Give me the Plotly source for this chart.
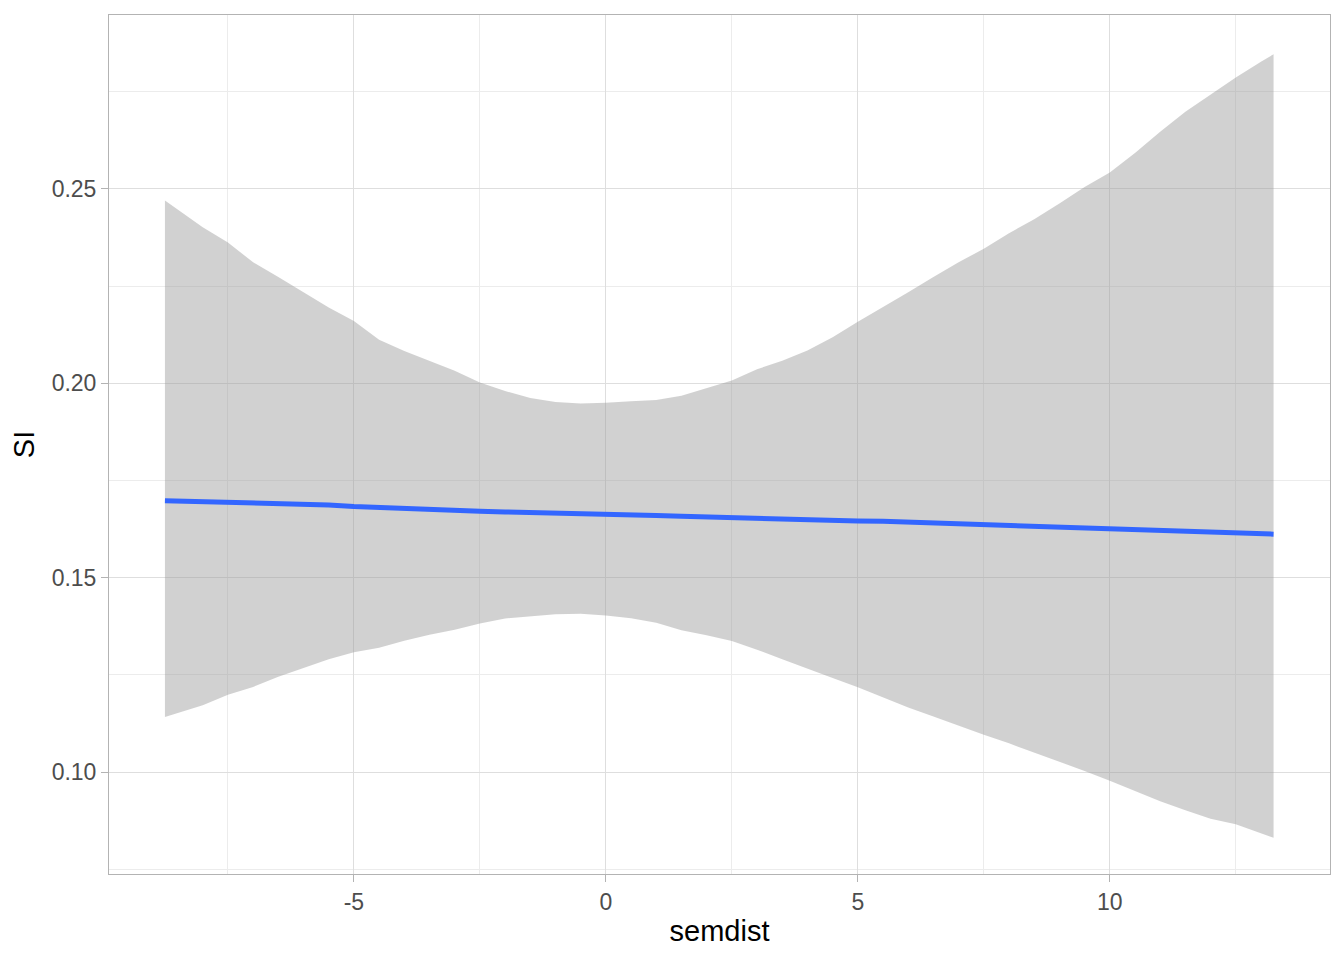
import plotly.graph_objects as go

# smoothed fit of SI against semdist, with its confidence band
semdist = [-8.75, -8, -7.5, -7, -6.5, -6, -5.5, -5, -4.5, -4, -3.5, -3, -2.5, -2,
           -1.5, -1, -0.5, 0, 0.5, 1, 1.5, 2, 2.5, 3, 3.5, 4, 4.5, 5, 5.5, 6,
           6.5, 7, 7.5, 8, 8.5, 9, 9.5, 10, 10.5, 11, 11.5, 12, 12.5, 13, 13.25]
si_fit = [0.1698, 0.1696, 0.1693, 0.1692, 0.1691, 0.1689, 0.1687, 0.1683, 0.1680,
          0.1678, 0.1676, 0.1673, 0.1671, 0.1669, 0.1668, 0.1666, 0.1665, 0.1663,
          0.1662, 0.1660, 0.1658, 0.1656, 0.1654, 0.1652, 0.1649, 0.1648, 0.1647,
          0.1646, 0.1645, 0.1643, 0.1641, 0.1638, 0.1636, 0.1634, 0.1633, 0.1631,
          0.1630, 0.1628, 0.1625, 0.1623, 0.1622, 0.1620, 0.1618, 0.1614, 0.1612]
si_upper = [0.2470, 0.2401, 0.2362, 0.2311, 0.2273, 0.2234, 0.2195, 0.2160, 0.2112,
            0.2083, 0.2058, 0.2032, 0.2002, 0.1980, 0.1962, 0.1952, 0.1948, 0.1950,
            0.1954, 0.1957, 0.1968, 0.1988, 0.2007, 0.2036, 0.2058, 0.2084, 0.2118,
            0.2158, 0.2195, 0.2234, 0.2273, 0.2311, 0.2346, 0.2386, 0.2422, 0.2462,
            0.2505, 0.2542, 0.2592, 0.2647, 0.2698, 0.2743, 0.2786, 0.2827, 0.2846]
si_lower = [0.1142, 0.1172, 0.1199, 0.1219, 0.1245, 0.1268, 0.1290, 0.1308, 0.1320,
            0.1338, 0.1353, 0.1366, 0.1382, 0.1395, 0.1401, 0.1406, 0.1407, 0.1403,
            0.1396, 0.1384, 0.1365, 0.1352, 0.1337, 0.1315, 0.1290, 0.1265, 0.1242,
            0.1218, 0.1192, 0.1166, 0.1143, 0.1119, 0.1096, 0.1074, 0.1051, 0.1028,
            0.1003, 0.0978, 0.0951, 0.0925, 0.0902, 0.0880, 0.0866, 0.0842, 0.0831]

x_ticks = [-5, 0, 5, 10]
y_ticks = [0.10, 0.15, 0.20, 0.25]

fig = go.Figure()
fig.add_trace(go.Scatter(x=semdist, y=si_lower, mode="lines",
                         line=dict(width=0), hoverinfo="skip"))
fig.add_trace(go.Scatter(x=semdist, y=si_upper, mode="lines", fill="tonexty",
                         fillcolor="rgba(153,153,153,0.45)",
                         line=dict(width=0), hoverinfo="skip"))
fig.add_trace(go.Scatter(x=semdist, y=si_fit, mode="lines",
                         line=dict(color="#3366FF", width=5)))

axis_common = dict(
    showline=True, mirror=True, linecolor="#b3b3b3", linewidth=1,
    showgrid=True, gridcolor="#dedede", gridwidth=1, zeroline=False,
    ticks="outside", ticklen=7, tickcolor="#b3b3b3", automargin=False,
    tickfont=dict(family="Liberation Sans", size=23, color="#4d4d4d"),
)

fig.update_layout(
    width=1344, height=960,
    paper_bgcolor="white", plot_bgcolor="white",
    showlegend=False,
    margin=dict(l=101, r=22, t=7, b=94),
    font=dict(family="Liberation Sans"),
    xaxis=dict(axis_common, range=[-9.86, 14.37], tickvals=x_ticks,
               ticktext=[str(v) for v in x_ticks],
               minor=dict(dtick=2.5, tick0=0, showgrid=True, gridcolor="#ececec", gridwidth=1, ticks=""),
               title=dict(text="semdist", font=dict(size=29, color="black"), standoff=7)),
    yaxis=dict(axis_common, range=[0.0738, 0.2947], tickvals=y_ticks,
               ticktext=["%.2f" % v for v in y_ticks],
               minor=dict(dtick=0.025, tick0=0, showgrid=True, gridcolor="#ececec", gridwidth=1, ticks=""),
               title=dict(text="SI", font=dict(size=29, color="black"), standoff=12)),
)

fig.write_html("out.html")
